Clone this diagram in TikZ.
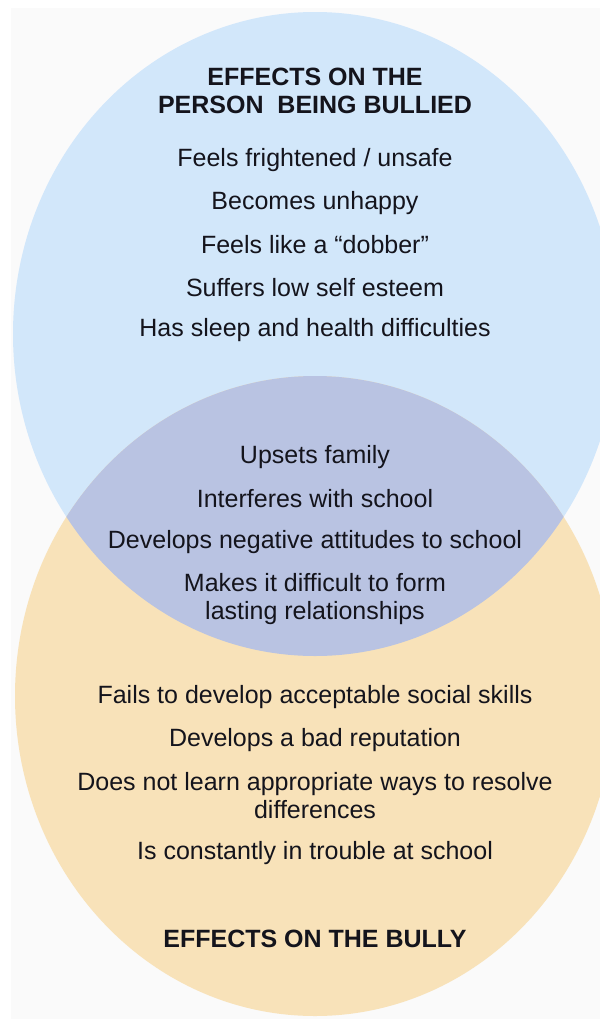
\documentclass[tikz,border=0pt]{standalone}
\usepackage{fontspec}
\setmainfont{Liberation Sans}
\usepackage{tikz}
\usetikzlibrary{positioning}
\definecolor{victimblue}{RGB}{210,231,250}
\definecolor{bullyorange}{RGB}{248,226,185}
\definecolor{bothviolet}{RGB}{185,195,226}
\definecolor{pagegray}{RGB}{250,250,250}
\definecolor{inkblack}{RGB}{20,20,28}
\tikzset{effect/.style={align=center,inner sep=0pt,text=inkblack,font=\fontsize{12.5}{14}\selectfont},
    heading/.style={effect,font=\fontsize{12.5}{14}\selectfont\bfseries}}

\begin{document}
\begin{tikzpicture}[x=0.5pt,y=-0.5pt]
    \useasboundingbox (0,0) rectangle (600,1019);
    \fill[white] (0,0) rectangle (600,1019);
    \fill[pagegray] (11,8) rectangle (600,1019);
    \begin{scope}
        \clip (0,0) rectangle (600,1019);
        \fill[victimblue] (315,334) ellipse [x radius=302,y radius=322];
        \fill[bullyorange] (315,696) ellipse [x radius=300,y radius=320];
        \clip (315,334) ellipse [x radius=302,y radius=322];
        \fill[bothviolet] (315,696) ellipse [x radius=300,y radius=320];
    \end{scope}
    % person being bullied
    \node[heading] (victimhead) at (315,91) {EFFECTS ON THE\\PERSON\ \ BEING BULLIED};
    \node[effect] (unsafe) at (315,160) {Feels frightened / unsafe};
    \node[effect] (unhappy) at (315,203) {Becomes unhappy};
    \node[effect] (dobber) at (315,245) {Feels like a “dobber”};
    \node[effect] (esteem) at (315,288) {Suffers low self esteem};
    \node[effect] (sleep) at (315,330) {Has sleep and health difficulties};
    % both
    \node[effect] (family) at (315,457) {Upsets family};
    \node[effect] (interferes) at (315,499) {Interferes with school};
    \node[effect] (attitudes) at (315,542) {Develops negative attitudes to school};
    \node[effect] (lasting) at (315,599) {Makes it difficult to form\\lasting relationships};
    % bully
    \node[effect] (skills) at (315,697) {Fails to develop acceptable social skills};
    \node[effect] (reputation) at (315,740) {Develops a bad reputation};
    \node[effect] (resolve) at (315,796) {Does not learn appropriate ways to resolve\\differences};
    \node[effect] (trouble) at (315,853) {Is constantly in trouble at school};
    \node[heading] (bullyhead) at (315,939) {EFFECTS ON THE BULLY};
\end{tikzpicture}
\end{document}
